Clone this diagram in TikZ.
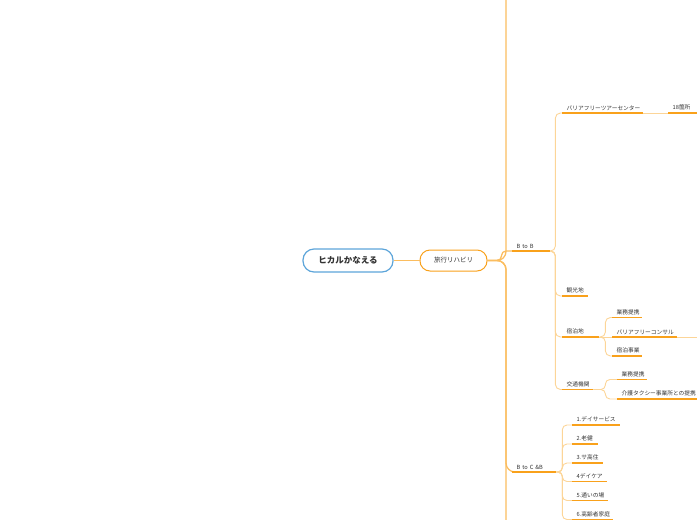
\documentclass[tikz,border=0pt]{standalone}
\usepackage{fontspec}
\newfontfamily\jpfont{Noto Sans CJK JP}
\usepackage{tikz}
\usetikzlibrary{positioning}

\definecolor{rootblue}{HTML}{5DA5DA}
\definecolor{mmorange}{HTML}{F9A11B}
\definecolor{textgray}{HTML}{333333}

\begin{document}
\begin{tikzpicture}[
    x=1pt, y=-1pt,
    % --- node styles ---
    root/.style={
        draw=rootblue, fill=white, line width=1.2pt, rounded corners=11pt,
        minimum width=90pt, minimum height=23pt,
        font=\jpfont\fontsize{8.5}{10}\selectfont\bfseries, text=textgray},
    topic/.style={
        draw=mmorange, fill=white, line width=1pt, rounded corners=10pt,
        minimum width=67pt, minimum height=21pt,
        font=\jpfont\fontsize{6.5}{8}\selectfont, text=textgray},
    leaf/.style={
        anchor=south west, text width=#1, align=left,
        inner xsep=4.5pt, inner ysep=2.5pt,
        font=\jpfont\fontsize{5.7}{7}\selectfont, text=textgray},
    % --- connector styles ---
    uline/.style={draw=mmorange, line width=1.5pt},
    link/.style={draw=mmorange!70, line width=1.3pt},
    sublink/.style={draw=mmorange!45, line width=0.9pt},
    elbow/.style={to path={
        -- ([xshift=#1]\tikztostart) |- (\tikztotarget)}},
]
\useasboundingbox (0,0) rectangle (697,520);
\clip (0,0) rectangle (697,520);

% ===== CENTRE =====
\node[root] (root) at (348,260.5) {ヒカルかなえる};
\node[topic] (trip) at (453.5,260.5) {旅行リハビリ};

% ===== B to B =====
\node[leaf=29pt] (btob) at (512,251) {B to B};
\node[leaf=72pt] (center) at (562,113) {バリアフリーツアーセンター};
\node[leaf=23pt] (pts18) at (668,113) {18箇所};
\node[leaf=17pt] (sight) at (562,296) {観光地};
\node[leaf=28pt] (lodging) at (562,337) {宿泊地};
\node[leaf=21pt] (lodgeally) at (612,317.5) {業務提携};
\node[leaf=56pt] (consult) at (612,337) {バリアフリーコンサル};
\node[leaf=21pt] (lodgebiz) at (612,356) {宿泊事業};
\node[leaf=22pt] (transit) at (562,389.5) {交通機関};
\node[leaf=21pt] (transally) at (617,379.5) {業務提携};
\node[leaf=76pt] (taxi) at (617,399) {介護タクシー事業所との提携};

% ===== B to C &B =====
\node[leaf=35pt] (btoc) at (512,472) {B to C \&B};
\node[leaf=39pt] (day) at (572,425) {1.デイサービス};
\node[leaf=17pt] (rouken) at (572,444) {2.老健};
\node[leaf=22pt] (sakouju) at (572,463) {3.サ高住};
\node[leaf=26pt] (daycare) at (572,481.5) {4デイケア};
\node[leaf=27pt] (kayoi) at (572,500.5) {5.通いの場};
\node[leaf=32pt] (home) at (572,519.5) {6.高齢者家庭};

% off-screen ends
\coordinate (sibabove) at (512,-150);
\coordinate (sibbelow) at (512,650);
\coordinate (consultnext) at (720,337);

% ===== CONNECTORS =====
\draw[link] (root) -- (trip);
\draw[link, rounded corners=4.5pt] (trip.east) to[elbow=14] (btob.south west);
\draw[link, rounded corners=9pt] (trip.east) to[elbow=18.5] (btoc.south west);
\foreach \t in {sibabove, sibbelow}{
    \draw[link, rounded corners=9pt] (trip.east) to[elbow=18.5] (\t);
}

\foreach \t in {center, sight, lodging, transit}{
    \draw[sublink, rounded corners=5pt] (btob.south east) to[elbow=5] (\t.south west);
}
\draw[sublink] (center.south east) -- (pts18.south west);

\foreach \t in {lodgeally, lodgebiz}{
    \draw[sublink, rounded corners=5pt] (lodging.south east) to[elbow=6] (\t.south west);
}
\draw[sublink] (lodging.south east) -- (consult.south west);
\draw[sublink] (consult.south east) -- (consultnext);

\foreach \t in {transally, taxi}{
    \draw[sublink, rounded corners=4.5pt] (transit.south east) to[elbow=12] (\t.south west);
}

\foreach \t in {day, rouken, sakouju, daycare, kayoi, home}{
    \draw[sublink, rounded corners=4.5pt] (btoc.south east) to[elbow=6] (\t.south west);
}

% ===== UNDERLINES =====
\foreach \n in {btob, center, pts18, sight, lodging, lodgeally, consult,
                lodgebiz, transit, transally, taxi, btoc, day, rouken,
                sakouju, daycare, kayoi, home}{
    \draw[uline] (\n.south west) -- (\n.south east);
}

\end{tikzpicture}
\end{document}
